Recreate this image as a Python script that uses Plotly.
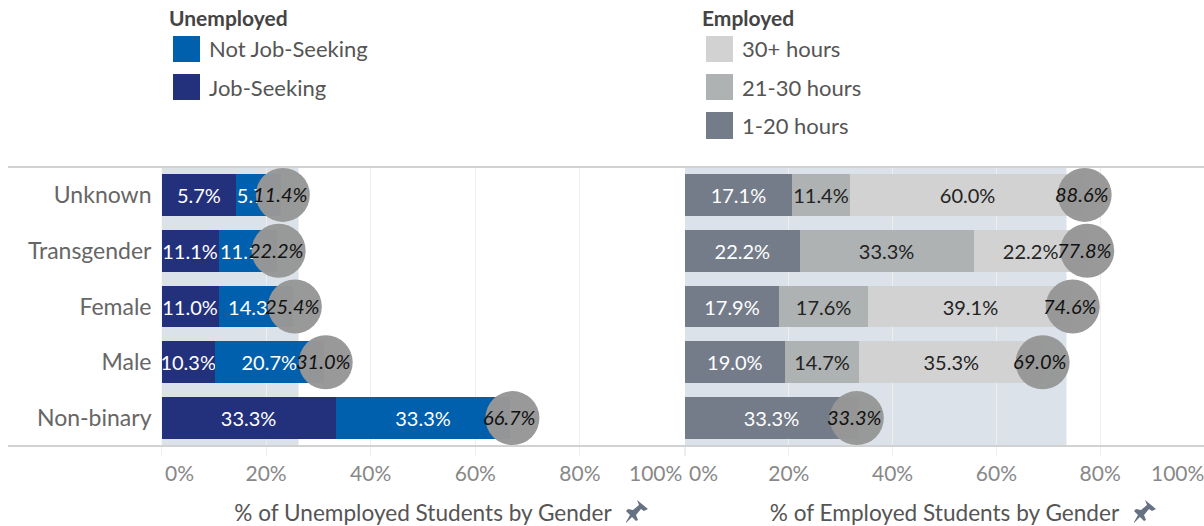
import plotly.graph_objects as go

W, H = 1204, 526
FONT = "Lato"

genders = ["Unknown", "Transgender", "Female", "Male", "Non-binary"]

# Unemployed: drawn segment widths, printed labels, marker positions
job_seeking = [14.3, 10.9, 10.9, 10.2, 33.3]
not_seeking = [8.6, 11.2, 14.3, 20.8, 33.4]
job_seeking_labels = ["5.7%", "11.1%", "11.0%", "10.3%", "33.3%"]
not_seeking_labels = ["5.7%", "11.1%", "14.3%", "20.7%", "33.3%"]
unemp_total_pos = [23.2, 22.4, 25.5, 31.4, 67.1]
unemp_total_labels = ["11.4%", "22.2%", "25.4%", "31.0%", "66.7%"]
unemp_band = 26.2

# Employed
h1_20 = [20.6, 22.1, 18.1, 19.2, 33.3]
h21_30 = [11.2, 33.5, 17.2, 14.4, 0]
h30_plus = [45.3, 22.0, 39.4, 35.4, 0]
h1_20_labels = ["17.1%", "22.2%", "17.9%", "19.0%", "33.3%"]
h21_30_labels = ["11.4%", "33.3%", "17.6%", "14.7%", ""]
h30_plus_labels = ["60.0%", "22.2%", "39.1%", "35.3%", ""]
emp_total_pos = [77.0, 77.5, 74.7, 68.9, 33.1]
emp_total_labels = ["88.6%", "77.8%", "74.6%", "69.0%", "33.3%"]
emp_band = 73.5

tick_vals = [0, 20, 40, 60, 80, 100]
tick_text = ["", "20%", "40%", "60%", "80%", ""]

C_JOB, C_NOT = "#23307c", "#0060ae"
C_H1, C_H2, C_H3 = "#747c8a", "#aeb2b2", "#d2d2d2"
BAND = "#dbe2ea"
TXT = "#666666"


def px(x):
    return x / W


def py(y):
    return 1 - y / H


fig = go.Figure()


def seg(x, labels, color, tc, xa, ya, name):
    fig.add_trace(go.Bar(
        y=genders, x=x, orientation="h", marker=dict(color=color, line_width=0),
        text=labels, textposition="inside", insidetextanchor="middle", textangle=0,
        constraintext="none", cliponaxis=False,
        insidetextfont=dict(family=FONT, size=20, color=tc),
        xaxis=xa, yaxis=ya, name=name, showlegend=False,
    ))


seg(job_seeking, job_seeking_labels, C_JOB, "white", "x", "y", "Job-Seeking")
seg(not_seeking, not_seeking_labels, C_NOT, "white", "x", "y", "Not Job-Seeking")
seg(h1_20, h1_20_labels, C_H1, "white", "x2", "y2", "1-20 hours")
seg(h21_30, h21_30_labels, C_H2, "#222222", "x2", "y2", "21-30 hours")
seg(h30_plus, h30_plus_labels, C_H3, "#222222", "x2", "y2", "30+ hours")

annotations = []
for pos, labels, xa, ya in [(unemp_total_pos, unemp_total_labels, "x", "y"),
                            (emp_total_pos, emp_total_labels, "x2", "y2")]:
    fig.add_trace(go.Scatter(
        x=pos, y=genders, mode="markers", xaxis=xa, yaxis=ya, showlegend=False,
        marker=dict(size=54, color="#979797", opacity=0.975, line_width=0),
        cliponaxis=False,
    ))
    for p, g, t in zip(pos, genders, labels):
        annotations.append(dict(x=p, y=g, xref=xa, yref=ya, text=f"<i>{t}</i>", showarrow=False,
                                xshift=-3, yshift=1, font=dict(family=FONT, size=20, color="#111111")))

# end tick labels sit inside the axis span
for text, x in [("0%", 179), ("100%", 655), ("0%", 703), ("100%", 1177)]:
    annotations.append(dict(x=px(x), y=py(472), xref="paper", yref="paper", xanchor="center", yanchor="middle",
                            text=text, showarrow=False, font=dict(family=FONT, size=21, color="#888888")))

# legend
for label, x in [("Unemployed", 167), ("Employed", 700)]:
    annotations.append(dict(x=px(x), y=py(18), xref="paper", yref="paper", xanchor="left", yanchor="middle",
                            text=f"<b>{label}</b>", showarrow=False,
                            font=dict(family=FONT, size=21, color="#444444")))

shapes = []
legend_rows = [
    (173, 207, 36, 62, C_NOT, "Not Job-Seeking"),
    (173, 207, 74, 100, C_JOB, "Job-Seeking"),
    (706, 740, 36, 62, C_H3, "30+ hours"),
    (706, 740, 74, 100, C_H2, "21-30 hours"),
    (706, 740, 112, 139, C_H1, "1-20 hours"),
]
for x0, tx, y0, y1, c, label in legend_rows:
    shapes.append(dict(type="rect", xref="paper", yref="paper", x0=px(x0), x1=px(x0 + 27), y0=py(y1), y1=py(y0),
                       fillcolor=c, line_width=0))
    annotations.append(dict(x=px(tx), y=py((y0 + y1) / 2), xref="paper", yref="paper", xanchor="left",
                            yanchor="middle", text=label, showarrow=False,
                            font=dict(family=FONT, size=22, color="#555555")))

# reference bands
for xr, yr, v in [("x", "y domain", unemp_band), ("x2", "y2 domain", emp_band)]:
    shapes.append(dict(type="rect", xref=xr, yref=yr, x0=0, x1=v, y0=0, y1=1,
                       fillcolor=BAND, line_width=0, layer="below"))

# frame lines
for y in (167, 446):
    shapes.append(dict(type="line", xref="paper", yref="paper", x0=px(8), x1=1, y0=py(y), y1=py(y),
                       line=dict(color="#d2d2d2", width=2)))


# pins beside the axis titles
def pin(cx, cy):
    pts = [(0, -12), (11, -3), (7, -1), (4, -3), (-1, 3), (1, 8), (-1, 9), (-5, 5), (-11, 11), (-11, 10), (-7, 3),
           (-11, -1), (-9, -3), (-4, -2), (2, -7)]
    d = "M" + " L".join(f"{px(cx + a):.5f},{py(cy + b):.5f}" for a, b in pts) + " Z"
    return dict(type="path", xref="paper", yref="paper", path=d, fillcolor="#667284", line_width=0)


shapes += [pin(637, 512), pin(1145, 512)]

axis_common = dict(
    range=[0, 100], tickvals=tick_vals, ticktext=tick_text, showgrid=True, gridcolor="#eeeeee", gridwidth=1,
    ticks="outside", ticklen=9, tickcolor="#eeeeee", zeroline=False, showline=False,
    tickfont=dict(family=FONT, size=21, color="#888888"), automargin=False,
)
title_font = dict(family=FONT, size=22.6, color="#555555")

fig.update_layout(
    width=W, height=H, autosize=False, margin=dict(l=0, r=0, t=0, b=0),
    paper_bgcolor="white", plot_bgcolor="rgba(0,0,0,0)", barmode="stack", bargap=0.25,
    font=dict(family=FONT), showlegend=False,
    xaxis=dict(domain=[px(161.5), px(684.5)], anchor="y",
               title=dict(text="% of Unemployed Students by Gender", font=title_font, standoff=20), **axis_common),
    xaxis2=dict(domain=[px(685), 1], anchor="y2",
                title=dict(text="% of Employed Students by Gender", font=title_font, standoff=20), **axis_common),
    yaxis=dict(domain=[py(446), py(167)], anchor="x", categoryorder="array", categoryarray=genders,
               range=[4.5, -0.5], showgrid=False, zeroline=False, ticks="", ticklabelstandoff=9,
               tickfont=dict(family=FONT, size=23, color=TXT), automargin=False),
    yaxis2=dict(domain=[py(446), py(167)], anchor="x2", categoryorder="array", categoryarray=genders,
                range=[4.5, -0.5], showgrid=False, zeroline=False, showticklabels=False, ticks=""),
    shapes=shapes, annotations=annotations,
)

fig.write_html("out.html", config=dict(displayModeBar=False),
               post_script="document.body.style.margin='0';document.documentElement.style.overflow='hidden';")
